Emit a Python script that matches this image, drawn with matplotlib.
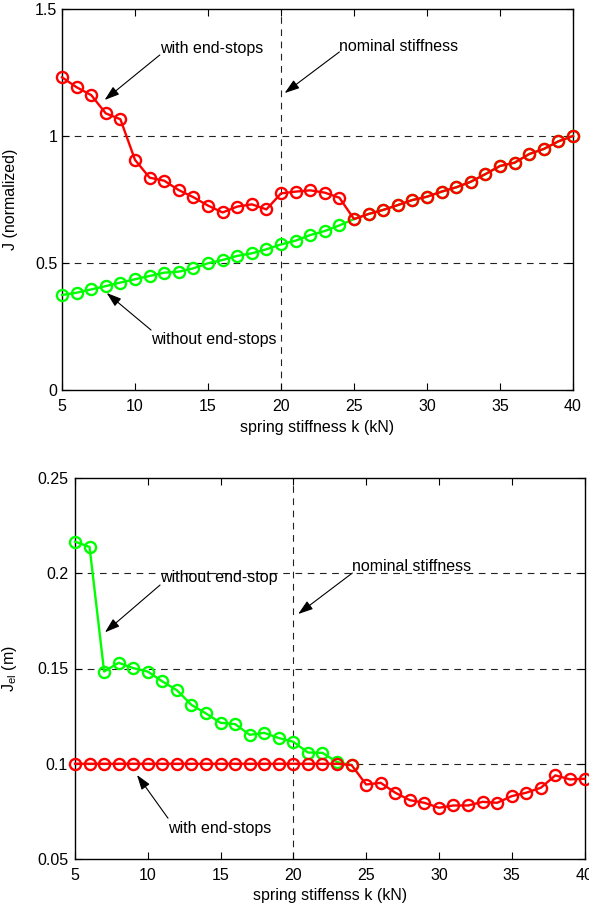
import matplotlib
matplotlib.use("Agg")
import matplotlib.pyplot as plt
import numpy as np

plt.rcParams['font.family'] = ['Liberation Sans', 'DejaVu Sans']

k = list(range(5, 41))

# Top plot: normalized J
J_with = [1.231, 1.192, 1.161, 1.089, 1.066, 0.906, 0.836, 0.824, 0.787, 0.759,
          0.726, 0.699, 0.722, 0.731, 0.711, 0.774, 0.781, 0.786, 0.777, 0.757,
          0.673, 0.693, 0.709, 0.728, 0.748, 0.761, 0.781, 0.798, 0.820, 0.850,
          0.882, 0.895, 0.929, 0.949, 0.979, 1.000]
J_without = [0.374, 0.383, 0.396, 0.409, 0.423, 0.436, 0.449, 0.462, 0.466, 0.479,
             0.499, 0.512, 0.528, 0.538, 0.554, 0.573, 0.588, 0.610, 0.626, 0.648,
             0.673, 0.693, 0.709, 0.728, 0.748, 0.761, 0.781, 0.798, 0.820, 0.850,
             0.882, 0.895, 0.929, 0.949, 0.979, 1.000]

# Bottom plot: J_el (m)
Jel_with = [0.100] * 19 + [0.0993, 0.0891, 0.0900, 0.0848, 0.0809, 0.0795, 0.0769,
                           0.0781, 0.0781, 0.0800, 0.0795, 0.0830, 0.0848, 0.0874,
                           0.0939, 0.0918, 0.0921]
Jel_without = [0.2166, 0.2138, 0.1484, 0.1530, 0.1502, 0.1484, 0.1432, 0.1386,
               0.1309, 0.1264, 0.1215, 0.1208, 0.1152, 0.1162, 0.1135, 0.1115,
               0.1059, 0.1057, 0.1009, 0.0993]
k_without_bottom = k[:len(Jel_without)]

top_yticks = [0, 0.5, 1, 1.5]
top_yticklabels = ['0', '0.5', '1', '1.5']
bot_yticks = [0.05, 0.1, 0.15, 0.2, 0.25]
bot_yticklabels = ['0.05', '0.1', '0.15', '0.2', '0.25']
xticks = [5, 10, 15, 20, 25, 30, 35, 40]

W, H = 589, 910
fig = plt.figure(figsize=(W / 100, H / 100), dpi=100)

ax1 = fig.add_axes([62 / W, 1 - 390 / H, (573 - 62) / W, (390 - 9) / H])
ax2 = fig.add_axes([75 / W, 1 - 859 / H, (584.5 - 75) / W, (859 - 478) / H])

RED = (1, 0, 0)
GREEN = (0, 1, 0)
FS = 11.5
mk = dict(marker='o', markersize=8, markerfacecolor='none', markeredgewidth=1.7, linewidth=1.7)

def style(ax, ypad):
    ax.tick_params(direction='in', length=5, top=True, right=True, labelsize=FS,
                   width=0.8)
    ax.tick_params(axis='x', pad=6.5)
    ax.tick_params(axis='y', pad=ypad)
    for s in ax.spines.values():
        s.set_linewidth(1.0)
    ax.set_xticks(xticks)
    ax.set_xticklabels([str(x) for x in xticks])

grid_kw = dict(color='#222222', linestyle=(0, (6, 5)), linewidth=0.8, zorder=1)

# --- Top axes ---
for yv in [0.5, 1.0]:
    ax1.axhline(yv, **grid_kw)
ax1.axvline(20, **grid_kw)
ax1.plot(k, J_without, color=GREEN, zorder=3, clip_on=False, **mk)
ax1.plot(k, J_with, color=RED, zorder=4, clip_on=False, **mk)
ax1.set_xlim(5, 40)
ax1.set_ylim(0, 1.5)
ax1.set_yticks(top_yticks)
ax1.set_yticklabels(top_yticklabels)
style(ax1, 3.5)
ax1.set_xlabel('spring stiffness k (kN)', fontsize=FS)
ax1.set_ylabel('J (normalized)', fontsize=FS)
ax1.xaxis.set_label_coords(0.5, (390 - 420) / 381)
ax1.yaxis.set_label_coords((18 - 62) / 511, 0.5)

arr = dict(arrowstyle='-|>,head_length=0.9,head_width=0.3', color='black', lw=0.8, shrinkA=0, shrinkB=0)
ax1.annotate('', xy=(7.92, 1.142), xytext=(11.7, 1.319), arrowprops=arr)
ax1.text(11.7, 1.345, 'with end-stops', fontsize=FS, ha='left', va='center')
ax1.annotate('', xy=(20.25, 1.169), xytext=(24.0, 1.331), arrowprops=arr)
ax1.text(24.0, 1.353, 'nominal stiffness', fontsize=FS, ha='left', va='center')
ax1.annotate('', xy=(8.06, 0.382), xytext=(11.1, 0.236), arrowprops=arr)
ax1.text(11.1, 0.198, 'without end-stops', fontsize=FS, ha='left', va='center')

# --- Bottom axes ---
for yv in [0.1, 0.15, 0.2]:
    ax2.axhline(yv, **grid_kw)
ax2.axvline(20, **grid_kw)
ax2.plot(k_without_bottom, Jel_without, color=GREEN, zorder=3, clip_on=False, **mk)
ax2.plot(k, Jel_with, color=RED, zorder=4, clip_on=False, **mk)
ax2.set_xlim(5, 40)
ax2.set_ylim(0.05, 0.25)
ax2.set_yticks(bot_yticks)
ax2.set_yticklabels(bot_yticklabels)
style(ax2, 5)
ax2.set_xlabel('spring stiffenss k (kN)', fontsize=FS)
ax2.set_ylabel('J$_{\\mathregular{el}}$ (m)', fontsize=FS)
ax2.xaxis.set_label_coords(0.5, (859 - 888) / 381)
ax2.yaxis.set_label_coords((19 - 75) / 509.5, 0.5)

ax2.annotate('', xy=(7.06, 0.169), xytext=(10.84, 0.1938), arrowprops=arr)
ax2.text(10.84, 0.1977, 'without end-stop', fontsize=FS, ha='left', va='center')
ax2.annotate('', xy=(20.33, 0.1786), xytext=(24.05, 0.2001), arrowprops=arr)
ax2.text(24.05, 0.2035, 'nominal stiffness', fontsize=FS, ha='left', va='center')
ax2.annotate('', xy=(9.26, 0.0941), xytext=(11.39, 0.0714), arrowprops=arr)
ax2.text(11.4, 0.0660, 'with end-stops', fontsize=FS, ha='left', va='center')

fig.savefig('out.png', dpi=100, facecolor='white')
